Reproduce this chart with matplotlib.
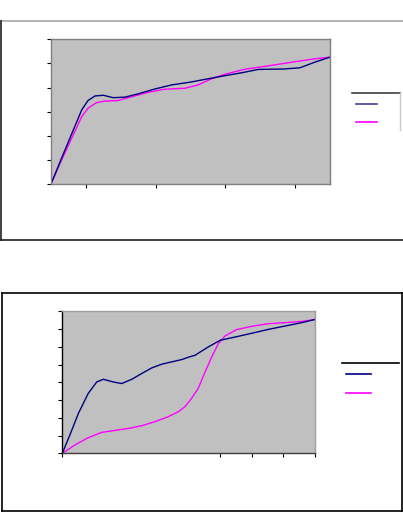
import matplotlib
matplotlib.use("Agg")
import matplotlib.pyplot as plt
from matplotlib.lines import Line2D

W, H = 403, 512

# top chart: two smoothed series
top_x_blue = [0, 0.15, 0.30, 0.44, 0.53, 0.63, 0.75, 0.89, 1.06, 1.25, 1.49, 1.73, 1.99,
              2.21, 2.49, 2.73, 2.97, 3.35, 3.57, 3.78, 4.0]
top_y_blue = [0, 1.06, 2.1, 3.07, 3.46, 3.65, 3.68, 3.58, 3.60, 3.74, 3.94, 4.11, 4.22,
              4.34, 4.49, 4.61, 4.75, 4.77, 4.82, 5.05, 5.26]
top_x_mag = [0, 0.15, 0.30, 0.44, 0.53, 0.65, 0.77, 0.96, 1.16, 1.39, 1.63, 1.92, 2.11,
             2.30, 2.49, 2.78, 3.12, 3.45, 3.78, 4.0]
top_y_mag = [0, 0.98, 1.92, 2.79, 3.14, 3.37, 3.44, 3.46, 3.62, 3.80, 3.93, 3.97, 4.11,
             4.36, 4.55, 4.76, 4.90, 5.05, 5.19, 5.26]
top_xticks = [0.5, 1.5, 2.5, 3.5]
top_yticks = [0, 1, 2, 3, 4, 5, 6]
top_ytick_cols = ['#d0d0d0', '#202020', '#d0d0d0', '#707070', '#d0d0d0', '#202020', '#d0d0d0']

# bottom chart
bot_x_blue = [0, 0.24, 0.51, 0.82, 1.09, 1.30, 1.61, 1.88, 2.20, 2.51, 2.83, 3.15, 3.46,
              3.78, 4.02, 4.20, 4.62, 5.0, 5.47, 5.99, 6.52, 7.05, 7.58, 8.0]
bot_y_blue = [0, 1.03, 2.25, 3.37, 4.02, 4.17, 4.02, 3.93, 4.17, 4.49, 4.81, 5.02, 5.15,
              5.28, 5.43, 5.52, 5.99, 6.37, 6.55, 6.76, 6.98, 7.17, 7.36, 7.54]
bot_x_mag = [0, 0.40, 0.82, 1.25, 1.67, 2.09, 2.51, 2.93, 3.35, 3.67, 3.88, 4.09, 4.30,
             4.52, 4.73, 4.94, 5.15, 5.52, 5.99, 6.52, 7.05, 7.58, 8.0]
bot_y_mag = [0, 0.47, 0.88, 1.18, 1.29, 1.40, 1.55, 1.78, 2.06, 2.34, 2.62, 3.09, 3.65,
             4.58, 5.43, 6.18, 6.61, 6.97, 7.15, 7.30, 7.36, 7.43, 7.54]
bot_xticks = [0, 5, 6, 7, 8]
bot_yticks = [0, 1, 2, 3, 4, 5, 6, 7, 8]
bot_ytick_cols = ['#000000', '#000000', '#000000', '#e0e0e0', '#000000', '#e0e0e0',
                  '#000000', '#000000', '#000000']

NAVY = '#000080'
MAG = '#ff00ff'
GREY = '#c0c0c0'


def px_axes(fig, left, top, right, bottom):
    return fig.add_axes([left / W, 1 - bottom / H, (right - left) / W, (bottom - top) / H])


def hline(fig, x0, x1, y, col, lw=1.0):
    fig.add_artist(Line2D([x0 / W, x1 / W], [1 - y / H, 1 - y / H], color=col, lw=lw,
                          transform=fig.transFigure))


def vline(fig, x, y0, y1, col, lw=1.0):
    fig.add_artist(Line2D([x / W, x / W], [1 - y0 / H, 1 - y1 / H], color=col, lw=lw,
                          transform=fig.transFigure))


fig = plt.figure(figsize=(W / 100, H / 100), dpi=100)
fig.patch.set_facecolor('white')

# ---- top chart frame
hline(fig, 0, 403, 20.5, '#b4b4b4', 1.4)
vline(fig, 1, 20.5, 240, '#202020', 1.2)
hline(fig, 0, 403, 240, '#202020', 1.2)

ax1 = px_axes(fig, 51, 39.3, 330, 184)
ax1.set_facecolor(GREY)
ax1.plot(top_x_mag, top_y_mag, color=MAG, lw=1.0)
ax1.plot(top_x_blue, top_y_blue, color=NAVY, lw=1.0)
ax1.set_xlim(0, 4)
ax1.set_ylim(0, 6)
ax1.set_xticks(top_xticks)
ax1.set_yticks(top_yticks)
ax1.tick_params(labelbottom=False, labelleft=False, direction='out', width=0.8, length=2.7)
for t, c in zip(ax1.yaxis.get_major_ticks(), top_ytick_cols):
    t.tick1line.set_color(c)
for t in ax1.xaxis.get_major_ticks():
    t.tick1line.set_color('#000000')
for s in ax1.spines.values():
    s.set_color('#808080')
    s.set_linewidth(1.0)

# top legend (no text)
hline(fig, 352, 400, 93.3, '#404040', 1.2)
vline(fig, 400, 93.3, 130, '#c8c8c8', 1.0)
hline(fig, 356, 376.7, 104.3, '#4040a0', 1.2)
hline(fig, 356, 376.7, 122.3, MAG, 1.2)

# ---- bottom chart frame
for y in (292.7, 510.7):
    hline(fig, 1.7, 402, y, '#000000', 1.2)
for x in (1.7, 402):
    vline(fig, x, 292.7, 510.7, '#000000', 1.2)

ax2 = px_axes(fig, 62.3, 311.3, 315, 453.3)
ax2.set_facecolor(GREY)
ax2.plot(bot_x_mag, bot_y_mag, color=MAG, lw=1.0)
ax2.plot(bot_x_blue, bot_y_blue, color=NAVY, lw=1.0)
ax2.set_xlim(0, 8)
ax2.set_ylim(0, 8)
ax2.set_xticks(bot_xticks)
ax2.set_yticks(bot_yticks)
ax2.tick_params(labelbottom=False, labelleft=False, direction='out', width=0.8, length=2.6)
ax2.tick_params(axis='y', length=3.0)
for t, c in zip(ax2.yaxis.get_major_ticks(), bot_ytick_cols):
    t.tick1line.set_color(c)
for t in ax2.xaxis.get_major_ticks():
    t.tick1line.set_color('#000000')
ax2.spines['left'].set_color('#000000')
ax2.spines['bottom'].set_color('#404040')
ax2.spines['top'].set_color('#a0a0a0')
ax2.spines['right'].set_color('#a0a0a0')
for s in ax2.spines.values():
    s.set_linewidth(1.0)

# bottom legend (no text)
hline(fig, 342, 399, 363.3, '#000000', 1.2)
hline(fig, 346, 370.7, 374.3, NAVY, 1.2)
hline(fig, 346, 370.7, 393.3, MAG, 1.2)

fig.savefig('out.png', dpi=100, facecolor='white')
